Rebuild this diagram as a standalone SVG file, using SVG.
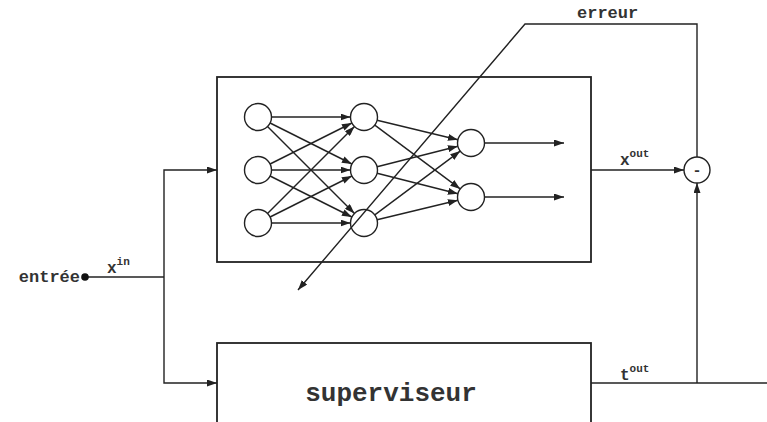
<svg xmlns="http://www.w3.org/2000/svg" width="767" height="422" viewBox="0 0 767 422">
<defs>
<marker id="ah" viewBox="0 0 10 7" refX="10" refY="3.5" markerWidth="10" markerHeight="7" markerUnits="userSpaceOnUse" orient="auto">
<path d="M0,0 L10,3.5 L0,7 z" fill="#222"/>
</marker>
<style>
.ln{stroke:#222;stroke-width:1.6;fill:none}
.arr{stroke:#222;stroke-width:1.4;fill:none;marker-end:url(#ah)}
.box{stroke:#222;stroke-width:1.8;fill:#fff}
.neu{stroke:#222;stroke-width:1.4;fill:#fff}
.t{font-family:"Liberation Mono","Courier New",monospace;font-weight:bold;fill:#333}
</style>
</defs>
<rect width="767" height="422" fill="#fff"/>

<g id="reseau">
<rect class="box" x="217" y="77" width="374" height="185"/>
</g>

<g id="superviseur">
<rect class="box" x="217" y="343" width="374" height="90"/>
<text class="t" x="391" y="401" font-size="26" text-anchor="middle">superviseur</text>
</g>

<g id="connectors">
<!-- input -->
<polyline class="ln" points="85,277 164,277"/>
<polyline class="arr" points="164,277 164,170 217,170"/>
<polyline class="arr" points="164,277 164,383 217,383"/>
<!-- outputs -->
<polyline class="arr" points="591,170 684,170"/>
<polyline class="ln" points="591,383 767,383"/>
<polyline class="arr" points="697,383 697,183"/>
<!-- error -->
<polyline class="arr" points="697,157 697,24 525,24 298,290"/>

<!-- layer1 -> layer2 -->
<line class="arr" x1="271.5" y1="117" x2="350.5" y2="117"/>
<line class="arr" x1="270.1" y1="123" x2="351.9" y2="164"/>
<line class="arr" x1="267.5" y1="126.5" x2="354.5" y2="213.5"/>
<line class="arr" x1="270.1" y1="164" x2="351.9" y2="123"/>
<line class="arr" x1="271.5" y1="170" x2="350.5" y2="170"/>
<line class="arr" x1="270.1" y1="176" x2="351.9" y2="217"/>
<line class="arr" x1="267.5" y1="213.5" x2="354.5" y2="126.5"/>
<line class="arr" x1="270.1" y1="217" x2="351.9" y2="176"/>
<line class="arr" x1="271.5" y1="223" x2="350.5" y2="223"/>
<!-- layer2 -> layer3 -->
<line class="arr" x1="377.1" y1="120.2" x2="457.9" y2="139.8"/>
<line class="arr" x1="374.8" y1="125.1" x2="460.2" y2="188.9"/>
<line class="arr" x1="377.1" y1="166.7" x2="457.9" y2="146.3"/>
<line class="arr" x1="377.1" y1="173.3" x2="457.9" y2="193.7"/>
<line class="arr" x1="374.8" y1="214.9" x2="460.2" y2="151.1"/>
<line class="arr" x1="377.1" y1="219.8" x2="457.9" y2="200.2"/>
<!-- layer3 outputs -->
<line class="arr" x1="484.5" y1="143" x2="564" y2="143"/>
<line class="arr" x1="484.5" y1="197" x2="564" y2="197"/>
</g>

<g id="neurones">
<circle class="neu" cx="258" cy="117" r="13.5"/>
<circle class="neu" cx="258" cy="170" r="13.5"/>
<circle class="neu" cx="258" cy="223" r="13.5"/>
<circle class="neu" cx="364" cy="117" r="13.5"/>
<circle class="neu" cx="364" cy="170" r="13.5"/>
<circle class="neu" cx="364" cy="223" r="13.5" fill-opacity="0"/>
<circle class="neu" cx="471" cy="143" r="13.5"/>
<circle class="neu" cx="471" cy="197" r="13.5"/>
</g>

<g id="entree">
<circle cx="85" cy="277" r="3.8" fill="#111"/>
<text class="t" x="80" y="282" font-size="17" text-anchor="end">entrée</text>
</g>

<g id="soustracteur">
<circle class="neu" cx="697" cy="170" r="13" stroke-width="1.8"/>
<text class="t" x="697" y="175" font-size="15" text-anchor="middle">-</text>
</g>

<g id="labels">
<text class="t" x="107" y="273" font-size="16">x<tspan font-size="11" dy="-8">in</tspan></text>
<text class="t" x="620" y="165" font-size="16">x<tspan font-size="11" dy="-8">out</tspan></text>
<text class="t" x="620" y="380" font-size="16">t<tspan font-size="11" dy="-8">out</tspan></text>
<text class="t" x="577" y="18" font-size="17">erreur</text>
</g>
</svg>
